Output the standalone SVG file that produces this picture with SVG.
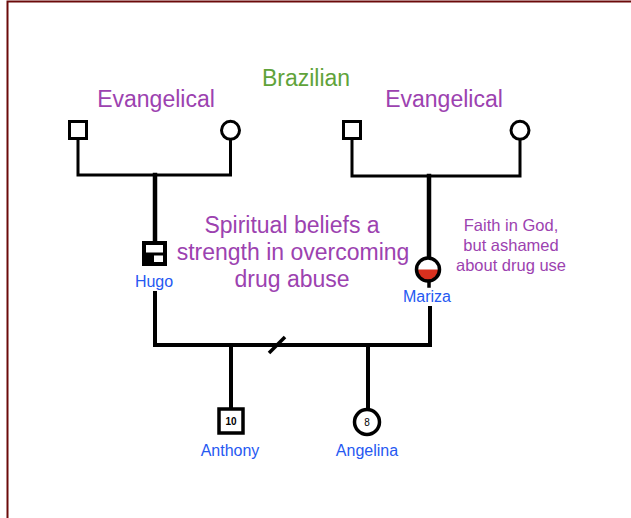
<svg xmlns="http://www.w3.org/2000/svg" width="631" height="518" viewBox="0 0 631 518">
<style>
.t{font-family:"Liberation Sans",Arial,sans-serif;text-anchor:middle}
.purple{fill:#9c42b0}
.green{fill:#5fa33a}
.blue{fill:#2659f2;font-size:16px}
.ln{stroke:#000;fill:none;stroke-linecap:square}
.sym{stroke:#000;fill:#fff}
</style>
<rect width="631" height="518" fill="#fff"/>
<path d="M7.5,518 V1.5 H631" fill="none" stroke="#6b0a0a" stroke-width="2"/>
<g id="connectors">
<path class="ln" stroke-width="3" d="M78,140 V175 H230.5 V140"/>
<path class="ln" stroke-width="4.5" d="M155,175 V241"/>
<path class="ln" stroke-width="3" d="M352,140 V176 H520 V140"/>
<path class="ln" stroke-width="4.5" d="M429,176 V256"/>
<path class="ln" stroke-width="3.5" d="M429,282 V286"/>
<path class="ln" stroke-width="4" d="M155,293 V345 H430 V308"/>
<path class="ln" stroke-width="4" d="M231,345 V407"/>
<path class="ln" stroke-width="4" d="M368,345 V408"/>
<path d="M269,353 L285,337" stroke="#000" stroke-width="3.5"/>
</g>
<g id="gf-left"><rect class="sym" x="69.5" y="121.5" width="17" height="17" stroke-width="3"/></g>
<g id="gm-left"><circle class="sym" cx="230.5" cy="130.3" r="9" stroke-width="3"/></g>
<g id="gf-right"><rect class="sym" x="343.5" y="121.5" width="17" height="17" stroke-width="3"/></g>
<g id="gm-right"><circle class="sym" cx="520" cy="130.3" r="9" stroke-width="3"/></g>
<g id="hugo">
<rect class="sym" x="144" y="243" width="21" height="21" stroke-width="4"/>
<line x1="144" y1="254" x2="165" y2="254" stroke="#000" stroke-width="3"/>
<rect x="144" y="254" width="10" height="10" fill="#000"/>
<text class="t blue" x="154" y="287">Hugo</text>
</g>
<g id="mariza">
<circle cx="428" cy="269.5" r="11.5" fill="#fff"/>
<path d="M416.5,269.5 A11.5,11.5 0 0 0 439.5,269.5 Z" fill="#d8301e"/>
<circle cx="428" cy="269.5" r="11.5" fill="none" stroke="#000" stroke-width="3.5"/>
<text class="t blue" x="427" y="302">Mariza</text>
</g>
<g id="anthony">
<rect class="sym" x="219" y="409" width="24" height="24" stroke-width="3.5"/>
<text class="t" x="231" y="425" font-size="10" font-weight="bold">10</text>
<text class="t blue" x="230" y="456">Anthony</text>
</g>
<g id="angelina">
<circle class="sym" cx="367" cy="422" r="12.5" stroke-width="3.5"/>
<text class="t" x="367" y="426" font-size="10">8</text>
<text class="t blue" x="367" y="456">Angelina</text>
</g>
<g id="labels">
<text class="t green" x="306" y="86" font-size="23">Brazilian</text>
<text class="t purple" x="156" y="107" font-size="23">Evangelical</text>
<text class="t purple" x="444" y="107" font-size="23">Evangelical</text>
<text class="t purple" font-size="23"><tspan x="292" y="233">Spiritual beliefs a</tspan><tspan x="293" y="260">strength in overcoming</tspan><tspan x="292" y="287">drug abuse</tspan></text>
<text class="t purple" font-size="16.5"><tspan x="511" y="231">Faith in God,</tspan><tspan x="511" y="251">but ashamed</tspan><tspan x="511" y="271">about drug use</tspan></text>
</g>
</svg>
